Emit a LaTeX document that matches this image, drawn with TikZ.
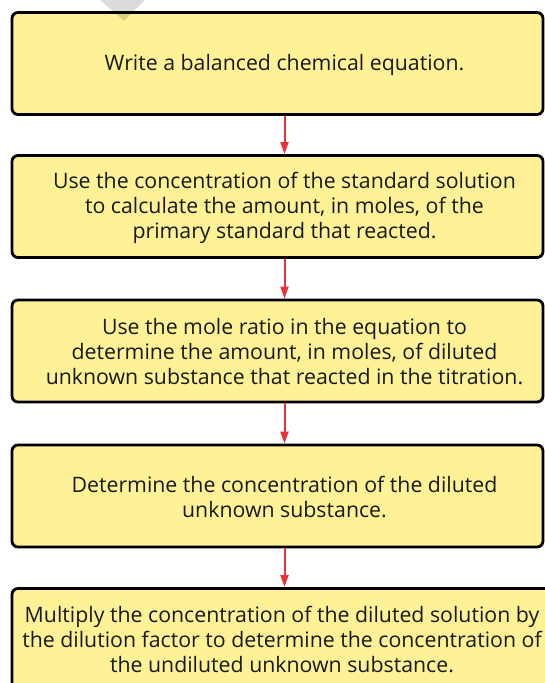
\documentclass[tikz,border=0pt]{standalone}
\usepackage{fontspec}
\setmainfont{Open Sans}
\usetikzlibrary{arrows.meta}
\definecolor{boxfill}{HTML}{FFF296}
\definecolor{arrred}{HTML}{E5343A}
\begin{document}
\begin{tikzpicture}[x=1pt,y=1pt,
  stepbox/.style={draw=black, line width=2.8pt, fill=boxfill, rounded corners=6pt,
    minimum width=531pt, minimum height=102pt, inner sep=0pt},
  steptext/.style={align=center, font=\fontsize{21.3}{25}\selectfont, text=black!90, inner sep=0pt},
  arr/.style={draw=arrred, line width=2pt, -{Triangle[length=12pt,width=8pt]}}]
\useasboundingbox (0,0) rectangle (545,683);
\begin{scope}
\clip (0,0) rectangle (545,683);
\node[stepbox] (b1) at (277.5,619.5) {};
\node[stepbox] (b2) at (277.5,476.5) {};
\node[stepbox] (b3) at (277.5,332) {};
\node[stepbox] (b4) at (277.5,187) {};
\node[stepbox, minimum width=540pt] (b5) at (282,43.5) {};
\fill[black, opacity=0.14] (100,683) -- (145,683) -- (124,662) -- cycle;
\node[steptext] (t1) at (284.5,618.5) {Write a balanced chemical equation.};
\node[steptext] (t2) at (284.5,475.5) {Use the concentration of the standard solution\\to calculate the amount, in moles, of the\\primary standard that reacted.};
\node[steptext] (t3) at (284.5,331) {Use the mole ratio in the equation to\\determine the amount, in moles, of diluted\\unknown substance that reacted in the titration.};
\node[steptext] (t4) at (284.5,186) {Determine the concentration of the diluted\\unknown substance.};
\node[steptext] (t5) at (282,43.5) {Multiply the concentration of the diluted solution by\\the dilution factor to determine the concentration of\\the undiluted unknown substance.};
\draw[arr] (t1 |- b1.south) -- (t1 |- b2.north);
\draw[arr] (t1 |- b2.south) -- (t1 |- b3.north);
\draw[arr] (t1 |- b3.south) -- (t1 |- b4.north);
\draw[arr] (t1 |- b4.south) -- (t1 |- b5.north);
\end{scope}
\end{tikzpicture}
\end{document}
